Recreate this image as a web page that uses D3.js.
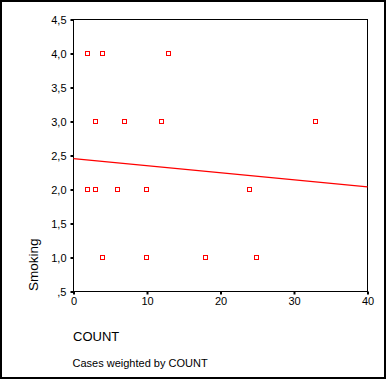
<!DOCTYPE html>
<html>
<head>
<meta charset="utf-8">
<script src="https://cdn.jsdelivr.net/npm/d3@7"></script>
<style>
  html, body { margin: 0; padding: 0; background: #fff; }
  svg { display: block; font-family: "Liberation Sans", Arial, sans-serif; }
</style>
</head>
<body>
<svg id="chart" width="387" height="380"></svg>
<script>
// ---- data ----
const countValues   = [2, 4, 13, 3, 7, 12, 33, 2, 3, 6, 10, 24, 4, 10, 18, 25];
const smokingValues = [4, 4, 4, 3, 3, 3, 3, 2, 2, 2, 2, 2, 1, 1, 1, 1];
const xTicks = [0, 10, 20, 30, 40];
const yTicks = [0.5, 1, 1.5, 2, 2.5, 3, 3.5, 4, 4.5];
const yTickLabels = [",5", "1,0", "1,5", "2,0", "2,5", "3,0", "3,5", "4,0", "4,5"];
const fitX = [0, 40];
const fitY = [2.455, 2.04];
const xTitle = "COUNT";
const yTitle = "Smoking";
const footnote = "Cases weighted by COUNT";

// ---- layout ----
const svg = d3.select("#chart");
const L = 73.5, R = 367.5, T = 19.5, B = 291.5;
const x = d3.scaleLinear().domain([0, 40]).range([L, R]);
const y = d3.scaleLinear().domain([0.5, 4.5]).range([B, T]);

// outer frame
svg.append("rect")
  .attr("x", 1).attr("y", 1).attr("width", 384).attr("height", 377)
  .attr("fill", "none").attr("stroke", "#000").attr("stroke-width", 2);

// plot frame
svg.append("rect")
  .attr("x", L).attr("y", T).attr("width", R - L).attr("height", B - T)
  .attr("fill", "none").attr("stroke", "#000").attr("stroke-width", 1)
  .attr("shape-rendering", "crispEdges");

// y axis
const yAxis = d3.axisLeft(y).tickValues(yTicks)
  .tickFormat((d, i) => yTickLabels[i])
  .tickSizeInner(3).tickSizeOuter(0).tickPadding(4);
const gy = svg.append("g").attr("transform", `translate(${L},0)`).call(yAxis);
gy.select(".domain").remove();
gy.selectAll(".tick line").attr("stroke", "#000").attr("stroke-width", 2);
gy.selectAll(".tick text").attr("font-size", 11).attr("fill", "#000")
  .attr("font-family", "Liberation Sans, Arial, sans-serif");

// x axis
const xAxis = d3.axisBottom(x).tickValues(xTicks)
  .tickFormat(d3.format("d"))
  .tickSizeInner(3).tickSizeOuter(0).tickPadding(3);
const gx = svg.append("g").attr("transform", `translate(0,${B})`).call(xAxis);
gx.select(".domain").remove();
gx.selectAll(".tick line").attr("stroke", "#000").attr("stroke-width", 2);
gx.selectAll(".tick text").attr("font-size", 11).attr("fill", "#000")
  .attr("font-family", "Liberation Sans, Arial, sans-serif");

// fit line
svg.append("line")
  .attr("x1", x(fitX[0])).attr("y1", y(fitY[0]))
  .attr("x2", x(fitX[1])).attr("y2", y(fitY[1]))
  .attr("stroke", "#ff0000").attr("stroke-width", 1.2);

// points
const pts = countValues.map((c, i) => ({ c, s: smokingValues[i] }));
svg.append("g").selectAll("rect").data(pts).join("rect")
  .attr("x", d => Math.round(x(d.c)) - 2.5)
  .attr("y", d => Math.round(y(d.s)) - 2.5)
  .attr("width", 4).attr("height", 4)
  .attr("fill", "none").attr("stroke", "#ff0000").attr("stroke-width", 1)
  .attr("shape-rendering", "crispEdges");

// titles
svg.append("text")
  .attr("x", 73).attr("y", 340.5)
  .attr("font-size", 13).attr("fill", "#000")
  .text(xTitle);

svg.append("text")
  .attr("transform", "translate(37.5,291) rotate(-90)")
  .attr("font-size", 13.5).attr("fill", "#000")
  .text(yTitle);

svg.append("text")
  .attr("x", 72.5).attr("y", 366.5)
  .attr("font-size", 11).attr("fill", "#000")
  .text(footnote);
</script>
</body>
</html>
